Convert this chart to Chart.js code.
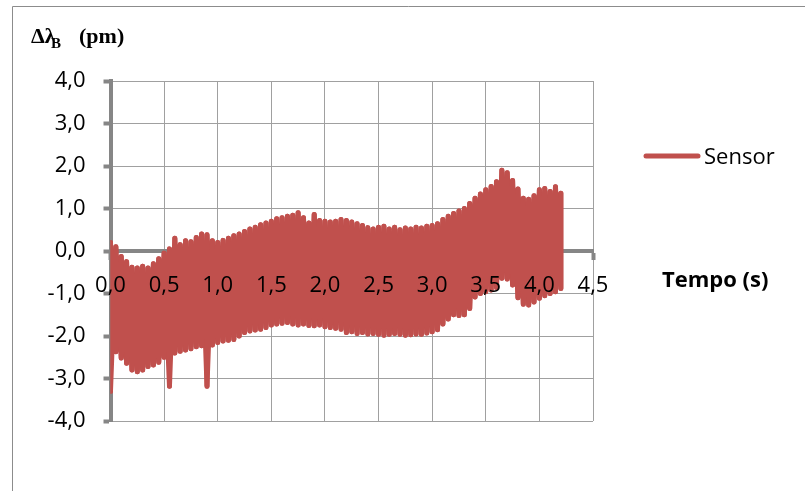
<!DOCTYPE html>
<html>
<head>
<meta charset="utf-8">
<script src="https://cdn.jsdelivr.net/npm/chart.js@4.4.1/dist/chart.umd.min.js"></script>
<style>
  body { margin: 0; background: #fff; }
  #wrap { width: 805px; height: 491px; }
</style>
</head>
<body>
<div id="wrap"><canvas id="lineChart" width="805" height="491"></canvas></div>
<script>
// instantes (s) e extremos de cada oscilação do sinal (pm)
const tempo = [
  0.00, 0.05, 0.10, 0.15, 0.20, 0.25, 0.30, 0.35, 0.40, 0.45,
  0.50, 0.55, 0.60, 0.65, 0.70, 0.75, 0.80, 0.85, 0.90, 0.95,
  1.00, 1.05, 1.10, 1.15, 1.20, 1.25, 1.30, 1.35, 1.40, 1.45,
  1.50, 1.55, 1.60, 1.65, 1.70, 1.75, 1.80, 1.85, 1.90, 1.95,
  2.00, 2.05, 2.10, 2.15, 2.20, 2.25, 2.30, 2.35, 2.40, 2.45,
  2.50, 2.55, 2.60, 2.65, 2.70, 2.75, 2.80, 2.85, 2.90, 2.95,
  3.00, 3.05, 3.10, 3.15, 3.20, 3.25, 3.30, 3.35, 3.40, 3.45,
  3.50, 3.55, 3.60, 3.65, 3.70, 3.75, 3.80, 3.85, 3.90, 3.95,
  4.00, 4.05, 4.10, 4.15, 4.20
];
const picos = [
  0.20, 0.10, -0.13, -0.25, -0.38, -0.40, -0.36, -0.40, -0.30, -0.18,
  -0.05, 0.05, 0.30, 0.15, 0.24, 0.22, 0.32, 0.40, 0.38, 0.24,
  0.20, 0.25, 0.30, 0.36, 0.40, 0.46, 0.52, 0.56, 0.62, 0.66,
  0.70, 0.76, 0.78, 0.82, 0.84, 0.90, 0.78, 0.66, 0.86, 0.72,
  0.70, 0.68, 0.70, 0.74, 0.72, 0.68, 0.64, 0.60, 0.55, 0.52,
  0.56, 0.58, 0.52, 0.56, 0.50, 0.54, 0.52, 0.56, 0.54, 0.58,
  0.60, 0.64, 0.74, 0.82, 0.88, 0.94, 1.00, 1.12, 1.24, 1.34,
  1.44, 1.52, 1.63, 1.90, 1.84, 1.66, 1.46, 1.24, 1.22, 1.30,
  1.44, 1.47, 1.40, 1.51, 1.36
];
const vales = [
  -3.30, -2.37, -2.52, -2.64, -2.80, -2.84, -2.80, -2.72, -2.68, -2.62,
  -2.50, -3.18, -2.40, -2.36, -2.33, -2.30, -2.25, -2.23, -3.18, -2.21,
  -2.15, -2.12, -2.10, -2.08, -2.00, -1.92, -1.88, -1.86, -1.84, -1.80,
  -1.74, -1.72, -1.70, -1.68, -1.72, -1.74, -1.72, -1.75, -1.76, -1.74,
  -1.78, -1.80, -1.82, -1.84, -1.92, -1.90, -1.94, -1.92, -1.95, -1.94,
  -1.96, -1.98, -1.96, -1.94, -1.96, -1.98, -1.97, -1.95, -1.96, -1.93,
  -1.90, -1.85, -1.72, -1.60, -1.50, -1.52, -1.50, -1.35, -1.08, -1.00,
  -0.96, -0.92, -0.86, -0.64, -0.66, -0.80, -1.10, -1.25, -1.27, -1.20,
  -1.11, -1.05, -1.00, -0.96, -0.88
];
const xTicks = [0, 0.5, 1, 1.5, 2, 2.5, 3, 3.5, 4, 4.5];
const yTicks = [-4, -3, -2, -1, 0, 1, 2, 3, 4];

const vermelho = "#C0504D";
const cinzaEixo = "#868686";
const cinzaGrade = "#a0a0a0";

// pico e vale alternados formam a faixa da oscilação;
// a segunda passada (vale antes do pico) cruza as diagonais e fecha a faixa
let sinal = [];
let sinalCruzado = [];
tempo.forEach((t, i) => {
  sinal.push({ x: t, y: picos[i] });
  sinal.push({ x: t, y: vales[i] });
  sinalCruzado.push({ x: t, y: vales[i] });
  sinalCruzado.push({ x: t, y: picos[i] });
});

let virgula = (v) => v.toFixed(1).replace(".", ",");

let estiloLinha = {
  borderColor: vermelho,
  backgroundColor: vermelho,
  borderWidth: 5,
  borderCapStyle: "round",
  borderJoinStyle: "round",
  pointRadius: 0,
  tension: 0,
  fill: false,
};

// títulos, legenda e moldura
const decor = {
  id: "decor",
  afterDraw(chart) {
    const ctx = chart.ctx;
    ctx.save();
    ctx.strokeStyle = "#8c8c8c";
    ctx.lineWidth = 1;
    ctx.beginPath();
    ctx.moveTo(12.5, 491);
    ctx.lineTo(12.5, 6.5);
    ctx.lineTo(805, 6.5);
    ctx.stroke();

    ctx.fillStyle = "#000";
    ctx.textBaseline = "alphabetic";
    ctx.font = 'bold 22px "Liberation Serif"';
    ctx.fillText("Δλ", 31, 43);
    ctx.font = 'bold 15px "Liberation Serif"';
    ctx.fillText("B", 51, 48);
    ctx.font = 'bold 22px "Liberation Serif"';
    ctx.fillText("(pm)", 79, 43);

    ctx.font = 'bold 22px "Open Sans"';
    ctx.fillText("Tempo (s)", 662, 287);

    ctx.strokeStyle = vermelho;
    ctx.lineWidth = 5;
    ctx.lineCap = "round";
    ctx.beginPath();
    ctx.moveTo(646, 156);
    ctx.lineTo(698, 156);
    ctx.stroke();
    ctx.font = '22px "Open Sans"';
    ctx.fillText(chart.data.datasets[0].label, 704, 164);
    ctx.restore();
  },
};

let lineChart = document.getElementById("lineChart").getContext("2d");

let sensorChart = new Chart(lineChart, {
  type: "line",
  data: {
    datasets: [
      { label: "Sensor", data: sinal, ...estiloLinha },
      { label: "", data: sinalCruzado, ...estiloLinha },
    ],
  },
  plugins: [decor],
  options: {
    responsive: false,
    animation: false,
    layout: {
      padding: { left: 0, top: 81, right: 212, bottom: 70 },
    },
    plugins: {
      legend: { display: false },
      tooltip: { enabled: false },
    },
    scales: {
      x: {
        type: "linear",
        min: 0,
        max: 4.5,
        position: { y: 0 },
        afterBuildTicks: (scale) => {
          scale.ticks = xTicks.map((v) => ({ value: v }));
        },
        grid: { color: cinzaGrade, lineWidth: 1, tickColor: cinzaEixo, tickWidth: 4, tickLength: 7 },
        border: { color: cinzaEixo, width: 4 },
        ticks: {
          z: 1,
          color: "#000",
          padding: 15,
          maxRotation: 0,
          autoSkip: false,
          font: { family: "Open Sans", size: 22 },
          callback: (v) => virgula(v),
        },
      },
      y: {
        type: "linear",
        min: -4,
        max: 4,
        afterBuildTicks: (scale) => {
          scale.ticks = yTicks.map((v) => ({ value: v }));
        },
        afterFit: (scale) => {
          scale.width = 110.5;
        },
        grid: { color: cinzaGrade, lineWidth: 1, tickColor: cinzaEixo, tickWidth: 4, tickLength: 7 },
        border: { color: cinzaEixo, width: 4 },
        ticks: {
          color: "#000",
          padding: 18,
          font: { family: "Open Sans", size: 22 },
          callback: (v) => virgula(v),
        },
      },
    },
  },
});
</script>
</body>
</html>
